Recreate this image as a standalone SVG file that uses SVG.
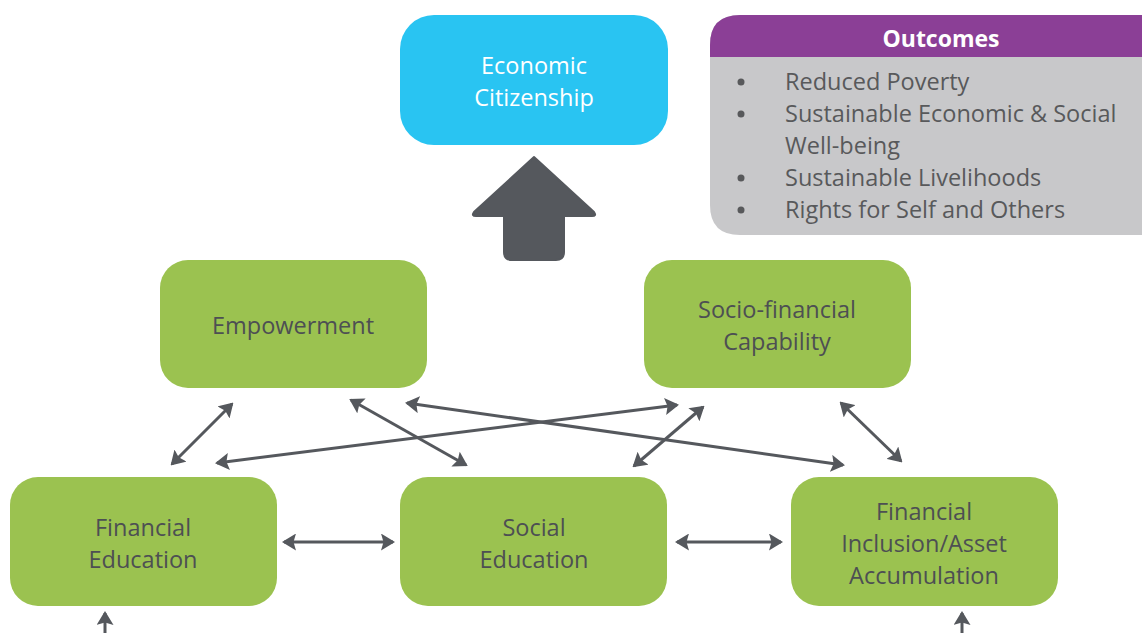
<svg xmlns="http://www.w3.org/2000/svg" width="1142" height="633" viewBox="0 0 1142 633">
<defs>
<style>
.g{fill:#9BC250}
.t{font-family:"Open Sans","Liberation Sans",sans-serif;font-size:23.5px;fill:#4D4F53;text-anchor:middle}
.w{font-family:"Open Sans","Liberation Sans",sans-serif;font-size:23.5px;fill:#FFFFFF;text-anchor:middle}
.o{font-family:"Open Sans","Liberation Sans",sans-serif;font-size:23.5px;fill:#58595B}
.c{stroke:#55585D;stroke-width:3;fill:none;marker-start:url(#ah);marker-end:url(#ah)}
.u{stroke:#55585D;stroke-width:3;fill:none;marker-end:url(#ah)}
</style>
<marker id="ah" viewBox="0 0 14 17" refX="12" refY="8.5" markerWidth="14" markerHeight="17" orient="auto-start-reverse" markerUnits="userSpaceOnUse">
<path d="M0,0 L14,8.5 L0,17 L2.5,8.5 Z" fill="#55585D"/>
</marker>
</defs>
<rect width="1142" height="633" fill="#FFFFFF"/>

<g id="economic-citizenship">
<rect x="400" y="15" width="268" height="130" rx="34" fill="#29C4F2"/>
<text class="w" x="534" y="74">Economic</text>
<text class="w" x="534" y="106">Citizenship</text>
</g>

<g id="big-arrow">
<path d="M534,157 L594,212 Q597,216 592,216 L564,216 L564,252 Q564,260 556,260 L512,260 Q504,260 504,252 L504,216 L476,216 Q471,216 474,212 Z" fill="#55585D" stroke="#55585D" stroke-width="2" stroke-linejoin="round"/>
</g>

<g id="outcomes">
<path d="M740,15 L1142,15 L1142,235 L740,235 Q710,235 710,205 L710,45 Q710,15 740,15 Z" fill="#C8C8CA"/>
<path d="M740,15 L1142,15 L1142,57 L710,57 L710,45 Q710,15 740,15 Z" fill="#8B3F96"/>
<text x="941" y="47" style="font-family:'Open Sans','Liberation Sans',sans-serif;font-size:23px;font-weight:bold;fill:#FFFFFF;text-anchor:middle">Outcomes</text>
<g fill="#58595B">
<circle cx="741" cy="82" r="3.5"/>
<circle cx="741" cy="114" r="3.5"/>
<circle cx="741" cy="178" r="3.5"/>
<circle cx="741" cy="210" r="3.5"/>
</g>
<text class="o" x="785" y="90">Reduced Poverty</text>
<text class="o" x="785" y="122">Sustainable Economic &amp; Social</text>
<text class="o" x="785" y="154">Well-being</text>
<text class="o" x="785" y="186">Sustainable Livelihoods</text>
<text class="o" x="785" y="218">Rights for Self and Others</text>
</g>

<g id="empowerment">
<rect class="g" x="160" y="260" width="267" height="128" rx="28"/>
<text class="t" x="293" y="334">Empowerment</text>
</g>

<g id="socio-financial-capability">
<rect class="g" x="644" y="260" width="267" height="128" rx="28"/>
<text class="t" x="777" y="318">Socio-financial</text>
<text class="t" x="777" y="350">Capability</text>
</g>

<g id="financial-education">
<rect class="g" x="10" y="477" width="267" height="129" rx="28"/>
<text class="t" x="143" y="536">Financial</text>
<text class="t" x="143" y="568">Education</text>
</g>

<g id="social-education">
<rect class="g" x="400" y="477" width="267" height="129" rx="28"/>
<text class="t" x="534" y="536">Social</text>
<text class="t" x="534" y="568">Education</text>
</g>

<g id="financial-inclusion">
<rect class="g" x="791" y="477" width="267" height="129" rx="28"/>
<text class="t" x="924" y="520">Financial</text>
<text class="t" x="924" y="552">Inclusion/Asset</text>
<text class="t" x="924" y="584">Accumulation</text>
</g>

<g id="connectors">
<line class="c" x1="232" y1="404" x2="172" y2="464"/>
<line class="c" x1="351" y1="400" x2="466" y2="465"/>
<line class="c" x1="407" y1="403" x2="843" y2="465"/>
<line class="c" x1="217" y1="463" x2="677" y2="405"/>
<line class="c" x1="703" y1="407" x2="634" y2="466"/>
<line class="c" x1="841" y1="403" x2="901" y2="461"/>
<line class="c" x1="284" y1="542" x2="393" y2="542"/>
<line class="c" x1="677" y1="542" x2="781" y2="542"/>
<line class="u" x1="105" y1="633" x2="105" y2="613"/>
<line class="u" x1="962" y1="633" x2="962" y2="613"/>
</g>
</svg>
